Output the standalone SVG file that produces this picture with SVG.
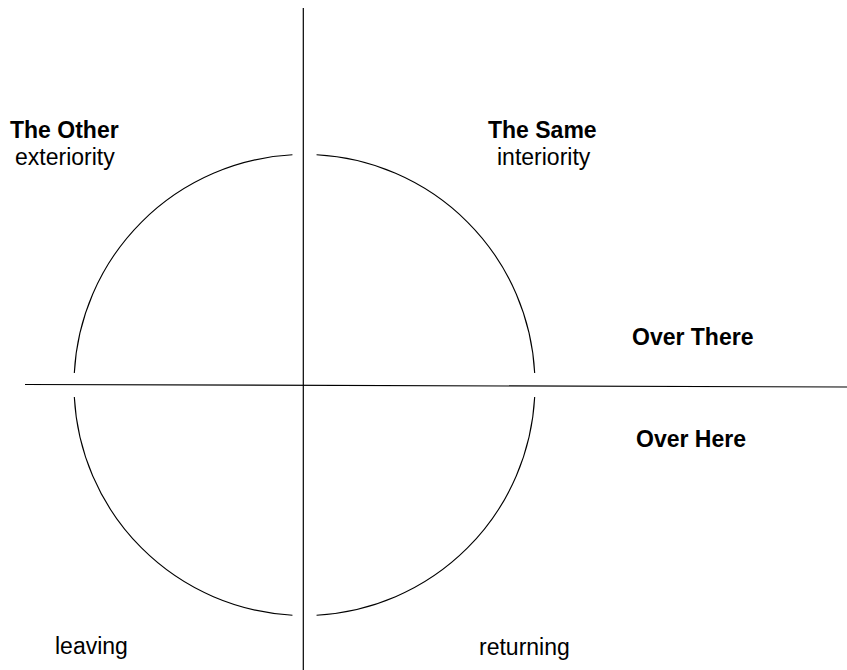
<svg xmlns="http://www.w3.org/2000/svg" width="847" height="670" viewBox="0 0 847 670">
<style>
.ln{stroke:#000;stroke-width:1.2;fill:none}
.arc{stroke:#000;stroke-width:1.1;fill:none}
text{font-family:"Liberation Sans",Arial,sans-serif;font-size:23px;fill:#000}
.b{font-weight:bold}
</style>
<rect width="847" height="670" fill="#fff"/>
<g id="connectors">
<line class="ln" x1="303.3" y1="8" x2="303.3" y2="670"/>
<line class="ln" x1="25" y1="384.5" x2="847" y2="387"/>
</g>
<g id="circle">
<path class="arc" d="M316.56,154.82 A230.5,230.5 0 0 1 534.68,372.94"/>
<path class="arc" d="M534.68,397.06 A230.5,230.5 0 0 1 316.56,615.18"/>
<path class="arc" d="M292.44,615.18 A230.5,230.5 0 0 1 74.32,397.06"/>
<path class="arc" d="M74.32,372.94 A230.5,230.5 0 0 1 292.44,154.82"/>
</g>
<g id="the-other">
<text class="b" x="10" y="138">The Other</text>
<text x="15" y="165">exteriority</text>
</g>
<g id="the-same">
<text class="b" x="488" y="138">The Same</text>
<text x="497" y="165">interiority</text>
</g>
<g id="over-there"><text class="b" x="632" y="345">Over There</text></g>
<g id="over-here"><text class="b" x="636" y="447">Over Here</text></g>
<g id="leaving"><text x="55" y="654">leaving</text></g>
<g id="returning"><text x="479" y="655">returning</text></g>
</svg>
